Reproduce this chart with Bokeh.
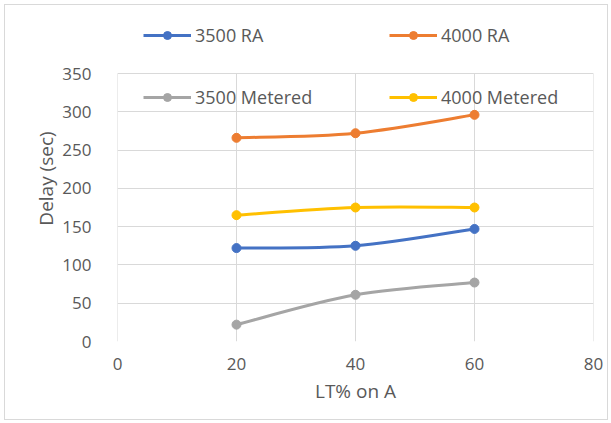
from bokeh.plotting import figure
from bokeh.models import Range1d, Legend, LegendItem, FixedTicker
from bokeh.embed import file_html
from bokeh.resources import INLINE

# ---- data ----
lt_pct = [20, 40, 60]
ra_3500 = [122, 125, 147]
ra_4000 = [266, 272, 296]
metered_3500 = [22, 61, 77]
metered_4000 = [165, 175, 175]

series_names = ["3500 RA", "4000 RA", "3500 Metered", "4000 Metered"]
series_values = [ra_3500, ra_4000, metered_3500, metered_4000]
series_colors = ["#4472C4", "#ED7D31", "#A5A5A5", "#FFC000"]

x_ticks = [0, 20, 40, 60, 80]
y_ticks = [0, 50, 100, 150, 200, 250, 300, 350]

FONT = "Open Sans"
TXT = "#595959"
GRID = "#D9D9D9"

# plot area 268 px tall for 0..350; frame extended upward to host the legend row
GRID_H = 268
EXTRA = 58
y_top = y_ticks[-1] * (GRID_H + EXTRA) / GRID_H

p = figure(
    frame_width=476, frame_height=GRID_H + EXTRA,
    min_border_left=108, min_border_right=10,
    min_border_top=6, min_border_bottom=74,
    x_range=Range1d(x_ticks[0], x_ticks[-1]), y_range=Range1d(0, y_top),
    output_backend="svg", toolbar_location=None,
)
# light chart-area border drawn just outside the canvas
p.styles = {"margin": "9px 0 0 9px", "outline": "1px solid #D9D9D9", "outline-offset": "4px"}
p.background_fill_color = "white"
p.border_fill_color = "white"
p.outline_line_color = None

p.xaxis.ticker = FixedTicker(ticks=x_ticks)
p.yaxis.ticker = FixedTicker(ticks=y_ticks)
p.yaxis.bounds = (y_ticks[0], y_ticks[-1])
for ax in (p.xaxis[0], p.yaxis[0]):
    ax.axis_line_color = None
    ax.major_tick_line_color = None
    ax.minor_tick_line_color = None
    ax.major_label_text_font = FONT
    ax.major_label_text_font_size = "17px"
    ax.major_label_text_color = TXT
    ax.axis_label_text_font = FONT
    ax.axis_label_text_font_size = "19px"
    ax.axis_label_text_font_style = "normal"
    ax.axis_label_text_color = TXT
p.xaxis.axis_label = "LT% on A"
p.yaxis.axis_label = "Delay (sec)"
p.xaxis.major_label_standoff = 10
p.yaxis.major_label_standoff = 20
p.xaxis.axis_label_standoff = 5
p.yaxis.axis_label_standoff = 0

p.xgrid.visible = False
p.ygrid.grid_line_color = GRID
# vertical grid lines limited to the 0..350 plot area
p.segment(x0=x_ticks, y0=[y_ticks[0]] * len(x_ticks), x1=x_ticks, y1=[y_ticks[-1]] * len(x_ticks),
          line_color=GRID, line_width=1)


def smooth_segments(xs, ys, t=1.0 / 6.0):
    n = len(xs)
    out = {k: [] for k in ("x0", "y0", "x1", "y1", "cx0", "cy0", "cx1", "cy1")}
    for i in range(n - 1):
        xp, yp = (xs[i - 1], ys[i - 1]) if i > 0 else (xs[i], ys[i])
        xn, yn = (xs[i + 2], ys[i + 2]) if i + 2 < n else (xs[i + 1], ys[i + 1])
        out["x0"].append(xs[i]); out["y0"].append(ys[i])
        out["x1"].append(xs[i + 1]); out["y1"].append(ys[i + 1])
        out["cx0"].append(xs[i] + (xs[i + 1] - xp) * t)
        out["cy0"].append(ys[i] + (ys[i + 1] - yp) * t)
        out["cx1"].append(xs[i + 1] - (xn - xs[i]) * t)
        out["cy1"].append(ys[i + 1] - (yn - ys[i]) * t)
    return out


legend_spots = [(26, 294), (272, 294), (26, 232), (272, 232)]

for name, vals, col, spot in zip(series_names, series_values, series_colors, legend_spots):
    seg = smooth_segments(lt_pct, vals)
    p.bezier(line_color=col, line_width=3, **seg)
    sr = p.scatter(lt_pct, vals, size=9, fill_color=col, line_color=col)
    leg_line = p.line([0, 1], [-100, -100], line_color=col, line_width=3)
    leg = Legend(items=[LegendItem(label=name, renderers=[leg_line, sr])],
                 location=spot, orientation="horizontal")
    leg.glyph_width = 48
    leg.glyph_height = 20
    leg.label_height = 20
    leg.label_standoff = 4
    leg.padding = 0
    leg.margin = 0
    leg.border_line_color = None
    leg.background_fill_alpha = 0
    leg.label_text_font = FONT
    leg.label_text_font_size = "18px"
    leg.label_text_color = TXT
    p.add_layout(leg, "center")

open("out.html", "w").write(file_html(p, INLINE))
